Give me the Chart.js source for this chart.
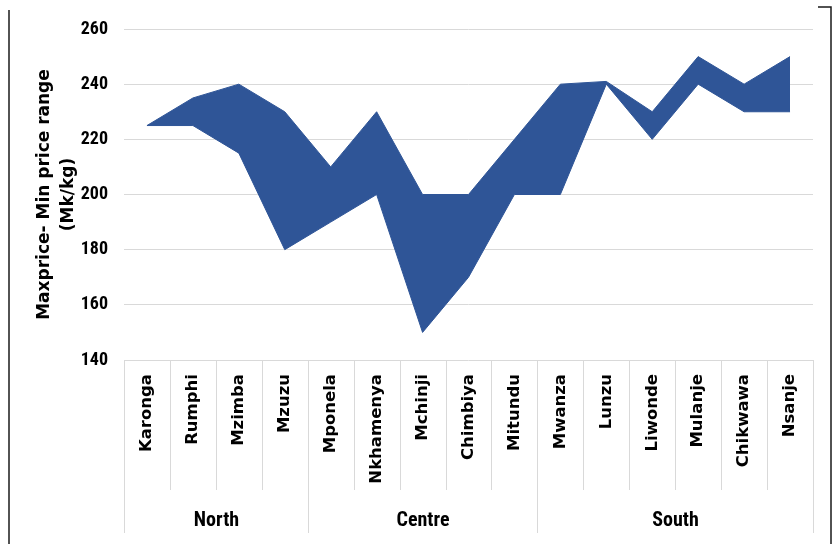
<!DOCTYPE html>
<html>
<head>
<meta charset="utf-8">
<script src="https://cdn.jsdelivr.net/npm/chart.js@4.4.1/dist/chart.umd.min.js"></script>
<style>
  html, body { margin: 0; padding: 0; background: #ffffff; }
  #wrap { position: relative; width: 833px; height: 544px; }
</style>
</head>
<body>
<div id="wrap"><canvas id="c" width="833" height="544"></canvas></div>
<script>
const categories = ['Karonga','Rumphi','Mzimba','Mzuzu','Mponela','Nkhamenya','Mchinji','Chimbiya','Mitundu','Mwanza','Lunzu','Liwonde','Mulanje','Chikwawa','Nsanje'];
const groups = ['North','Centre','South'];
const groupSizes = [4,5,6];
const maxPrice = [225,235,240,230,210,230,200,200,220,240,241,230,250,240,250];
const minPrice = [225,225,215,180,190,200,150,170,200,200,240,220,240,230,230];
const yMin = 140, yMax = 260, yStep = 20;
const yTitle = ['Maxprice- Min price range','(Mk/kg)'];

const FILL = '#2F5597';
const GRID = '#d9d9d9';
const NARROW = '"Liberation Sans Narrow", "Roboto Condensed", "Arial Narrow", Roboto, "Liberation Sans", sans-serif';
const WIDE = '"DejaVu Sans", Verdana, sans-serif';

const decor = {
  id: 'decor',
  afterDraw(chart) {
    const ctx = chart.ctx;
    const xs = chart.scales.x;
    const area = chart.chartArea;
    const n = categories.length;
    const bx = i => Math.round(xs.getPixelForValue(i - 0.5)) + 0.5;
    const groupEdges = [0];
    groupSizes.reduce((a, s) => { groupEdges.push(a + s); return a + s; }, 0);
    ctx.save();
    ctx.strokeStyle = GRID;
    ctx.lineWidth = 1;
    for (let i = 0; i <= n; i++) {
      const isGroup = groupEdges.includes(i);
      ctx.beginPath();
      ctx.moveTo(bx(i), area.bottom);
      ctx.lineTo(bx(i), isGroup ? 533 : 490);
      ctx.stroke();
    }
    ctx.fillStyle = '#000';
    ctx.font = 'bold 20px ' + NARROW;
    ctx.textAlign = 'center';
    ctx.textBaseline = 'middle';
    for (let g = 0; g < groups.length; g++) {
      const x = (bx(groupEdges[g]) + bx(groupEdges[g + 1])) / 2;
      ctx.fillText(groups[g], x, 521);
    }
    // frame
    ctx.strokeStyle = '#1a1a1a';
    ctx.lineWidth = 1.5;
    ctx.beginPath();
    ctx.moveTo(9, 10); ctx.lineTo(9, 544);
    ctx.stroke();
    ctx.beginPath();
    ctx.moveTo(818, 7); ctx.lineTo(831, 7); ctx.lineTo(831, 544);
    ctx.stroke();
    ctx.restore();
  }
};

new Chart(document.getElementById('c'), {
  type: 'line',
  data: {
    labels: categories,
    datasets: [
      { label: 'Max', data: maxPrice, fill: '+1', backgroundColor: FILL, borderColor: FILL, borderWidth: 1, pointRadius: 0, tension: 0 },
      { label: 'Min', data: minPrice, fill: false, backgroundColor: FILL, borderColor: FILL, borderWidth: 1, pointRadius: 0, tension: 0 }
    ]
  },
  options: {
    responsive: false,
    animation: false,
    devicePixelRatio: 1,
    layout: { padding: { left: 0, right: 20, top: 29, bottom: 0 } },
    plugins: { legend: { display: false }, tooltip: { enabled: false } },
    scales: {
      x: {
        type: 'category',
        offset: true,
        grid: { display: false, drawOnChartArea: false, drawTicks: false },
        border: { display: false },
        ticks: {
          autoSkip: false, minRotation: 90, maxRotation: 90, padding: 14,
          color: '#000', font: { family: WIDE, size: 16.5, weight: 'bold' }
        },
        afterFit(s) { s.height = 184; }
      },
      y: {
        min: yMin, max: yMax,
        grid: { color: GRID, lineWidth: 1, drawTicks: false },
        border: { display: false },
        ticks: {
          stepSize: yStep, padding: 16, color: '#000',
          font: { family: NARROW, size: 18, weight: 'bold' }
        },
        title: {
          display: true, text: yTitle, color: '#000',
          font: { family: WIDE, size: 17, weight: 'bold', lineHeight: 1.41 },
          padding: { top: 33, bottom: 0 }
        },
        afterFit(s) { s.width = 124; }
      }
    }
  },
  plugins: [decor]
});
</script>
</body>
</html>
